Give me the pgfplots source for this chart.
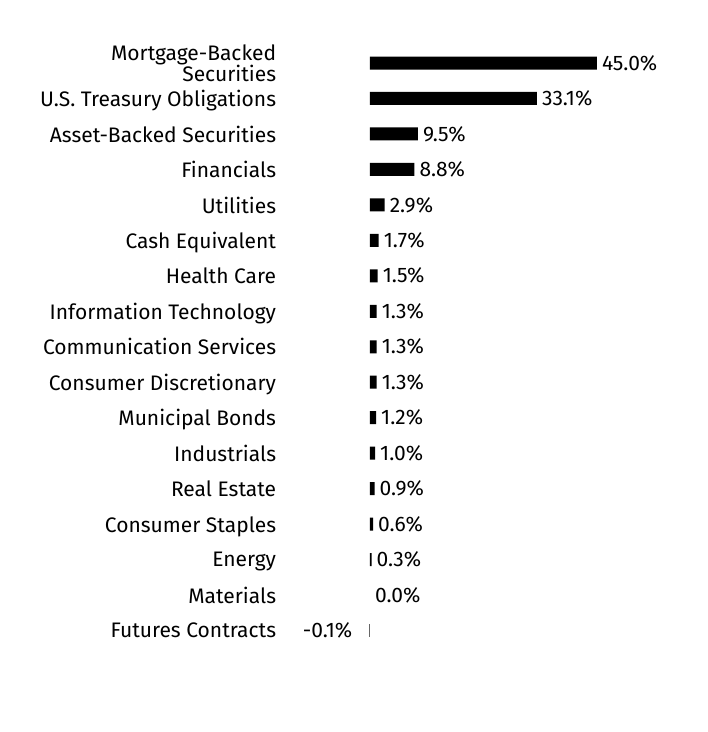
\documentclass[border=0pt]{standalone}
\usepackage{pgfplots}
\pgfplotsset{compat=1.18}
\usepackage{fontspec}
\setmainfont{Fira Sans}
\begin{document}
\begin{tikzpicture}
\path[use as bounding box] (0pt,0pt) rectangle (708pt,-732pt);
\begin{axis}[
    anchor=origin,
    at={(370pt,-63pt)},
    x=5.04pt,
    y=35.47pt,
    y dir=reverse,
    xmin=-18, xmax=60,
    ymin=-0.7, ymax=16.7,
    xbar,
    bar width=13pt,
    bar shift=0pt,
    axis line style={draw=none},
    major tick length=0pt,
    xtick=\empty,
    ytick={0,...,16},
    yticklabels={{Mortgage-Backed\\Securities},U.S. Treasury Obligations,Asset-Backed Securities,Financials,Utilities,Cash Equivalent,Health Care,Information Technology,Communication Services,Consumer Discretionary,Municipal Bonds,Industrials,Real Estate,Consumer Staples,Energy,Materials,Futures Contracts},
    yticklabel style={font=\fontsize{21}{21}\selectfont, align=right, inner sep=3pt, text depth=0pt},
    nodes near coords={\pgfmathprintnumber[fixed,fixed zerofill,precision=1,assume math mode=true]{\pgfplotspointmeta}\%},
    nodes near coords style={font=\fontsize{21}{23}\selectfont, inner sep=5pt},
    clip=false,
]
\addplot[fill=black, draw=none, nodes near coords align={horizontal}] coordinates {
    (45.0,0) (33.1,1) (9.5,2) (8.8,3) (2.9,4) (1.7,5) (1.5,6) (1.3,7) (1.3,8)
    (1.3,9) (1.2,10) (1.0,11) (0.9,12) (0.6,13) (0.3,14)
};
% zero value: label only
\addplot[fill=none, draw=none, nodes near coords align={horizontal}] coordinates {
    (0.0,15)
};
\addplot[fill=black!60, draw=none, nodes near coords style={anchor=east, xshift=-12pt}] coordinates {
    (-0.1,16)
};
\end{axis}
\end{tikzpicture}
\end{document}
